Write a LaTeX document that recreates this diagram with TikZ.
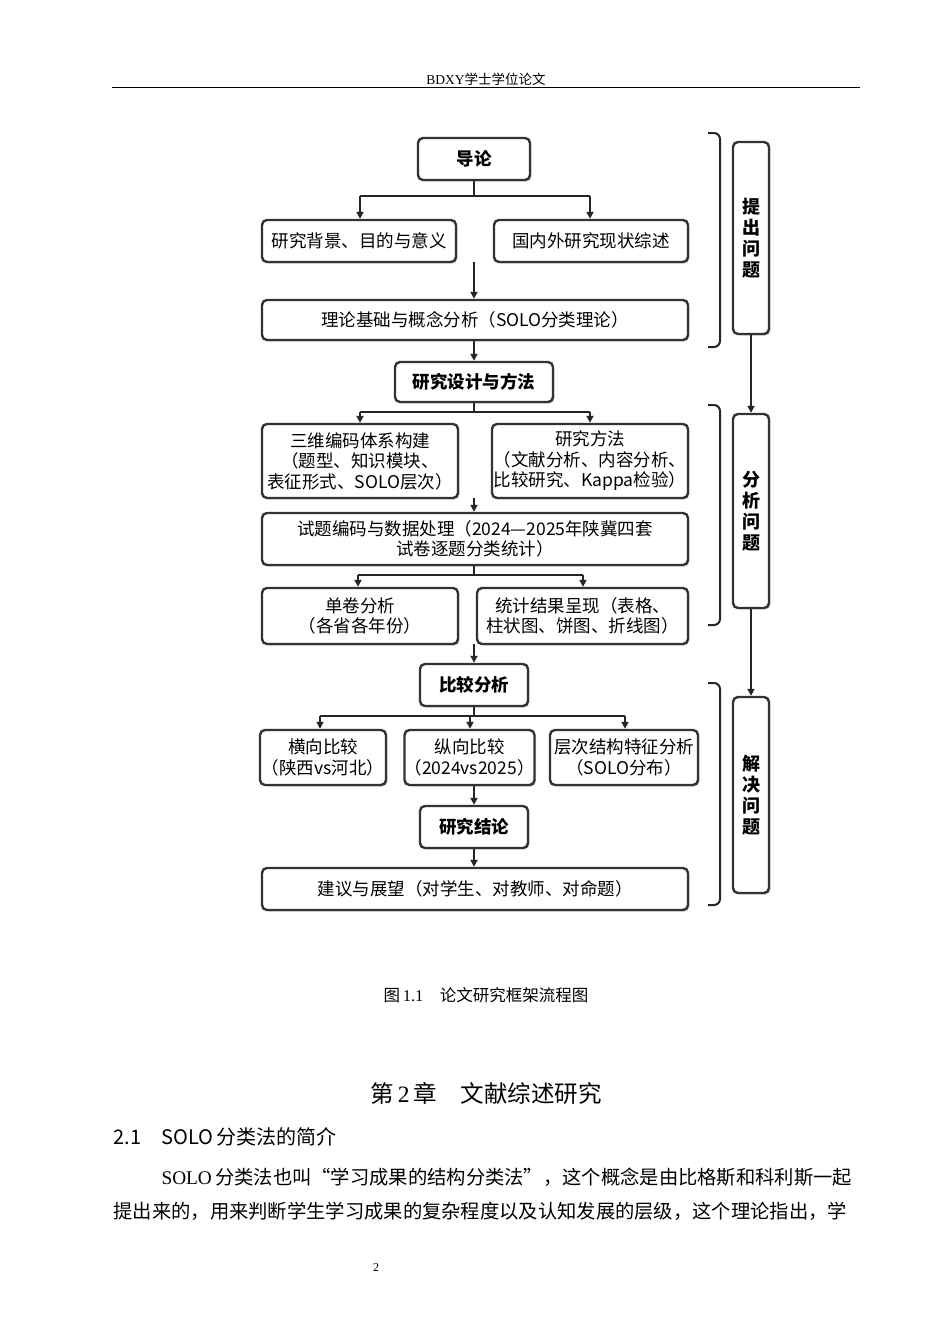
\documentclass[tikz,border=0pt]{standalone}
\usepackage{fontspec}
\setmainfont{Noto Sans CJK SC}
\newfontfamily\serifcjk{Noto Sans CJK SC}
\newfontfamily\latinser{Liberation Serif}
\usetikzlibrary{arrows.meta,shadows}
\begin{document}
\begin{tikzpicture}[x=1pt,y=-1pt,
  bx/.style={draw=black!80,line width=2.4pt,rounded corners=5pt,fill=white,
    drop shadow={shadow xshift=1.5pt,shadow yshift=-1.5pt,opacity=0.35},
    font=\fontsize{17.5}{20.5}\selectfont,align=center,inner sep=0pt},
  tb/.style={bx,font=\fontsize{17.5}{20}\selectfont\bfseries},
  vb/.style={bx,font=\fontsize{18}{21}\selectfont\bfseries},
  ar/.style={-{Triangle[length=7pt,width=7pt]},line width=2pt,black!85},
  ln/.style={line width=2pt,black!85},
  br/.style={line width=2pt,black!85,rounded corners=6pt}]
\useasboundingbox (0,0) rectangle (950,1344);
\fill[white] (0,0) rectangle (950,1344);
% header
\node (hdr) at (486,79) {\fontsize{13.5}{15}\selectfont\latinser BDXY\serifcjk 学士学位论文};
\draw[line width=0.8pt] (112,87) -- (860,87);
% boxes
\newcommand{\bxx}[6]{\node[#1,minimum width=#4-#2,minimum height=#5-#3] (#6) at ({(#2+#4)/2},{(#3+#5)/2})}
\bxx{tb}{418}{138}{530}{180}{dl} {导论};
\bxx{bx}{262}{220}{456}{262}{bj} {研究背景、目的与意义};
\bxx{bx}{494}{220}{688}{262}{gn} {国内外研究现状综述};
\bxx{bx}{262}{300}{688}{340}{ll} {理论基础与概念分析（SOLO分类理论）};
\bxx{tb}{395}{362}{553}{402}{sj} {研究设计与方法};
\bxx{bx}{262}{424}{458}{498}{sw} {三维编码体系构建\\（题型、知识模块、\\表征形式、SOLO层次）};
\bxx{bx}{492}{424}{688}{498}{ff} {研究方法\\（文献分析、内容分析、\\比较研究、Kappa检验）};
\bxx{bx}{262}{513}{688}{565}{st} {试题编码与数据处理（2024—2025年陕冀四套\\试卷逐题分类统计）};
\bxx{bx}{262}{588}{458}{644}{dj} {单卷分析\\（各省各年份）};
\bxx{bx}{477}{588}{688}{644}{tj} {统计结果呈现（表格、\\柱状图、饼图、折线图）};
\bxx{tb}{420}{664}{528}{706}{bj2} {比较分析};
\bxx{bx}{260}{730}{386}{785}{hx} {横向比较\\（陕西vs河北）};
\bxx{bx}{406}{730}{533}{785}{zx} {纵向比较\\（2024vs2025）};
\bxx{bx}{550}{730}{698}{785}{cc} {层次结构特征分析\\（SOLO分布）};
\bxx{tb}{420}{806}{528}{848}{jl} {研究结论};
\bxx{bx}{262}{868}{688}{910}{jy} {建议与展望（对学生、对教师、对命题）};
% connectors
\draw[ln] (dl.south-|474,0) -- (474,196);
\draw[ln] (360,196) -- (590,196);
\draw[ar] (360,196) -- (bj.north-|360,0);
\draw[ar] (590,196) -- (gn.north-|590,0);
\draw[ar] (474,262) -- (ll.north-|474,0);
\draw[ar] (ll.south-|474,0) -- (sj.north-|474,0);
\draw[ln] (sj.south-|474,0) -- (474,412);
\draw[ln] (360,412) -- (590,412);
\draw[ar] (360,412) -- (sw.north-|360,0);
\draw[ar] (590,412) -- (ff.north-|590,0);
\draw[ar] (474,498) -- (st.north-|474,0);
\draw[ln] (st.south-|474,0) -- (474,575);
\draw[ln] (358,575) -- (583,575);
\draw[ar] (358,575) -- (dj.north-|358,0);
\draw[ar] (583,575) -- (tj.north-|583,0);
\draw[ar] (474,644) -- (bj2.north-|474,0);
\draw[ln] (bj2.south-|474,0) -- (474,716);
\draw[ln] (320,716) -- (625,716);
\draw[ar] (320,716) -- (hx.north-|320,0);
\draw[ar] (470,716) -- (zx.north-|470,0);
\draw[ar] (zx.south-|474,0) -- (jl.north-|474,0);
\draw[ar] (625,716) -- (cc.north-|625,0);
\draw[ar] (jl.south-|474,0) -- (jy.north-|474,0);
% brackets
\draw[br] (708,133) -- (720,133) -- (720,347) -- (708,347);
\draw[br] (708,405) -- (720,405) -- (720,625) -- (708,625);
\draw[br] (708,683) -- (720,683) -- (720,905) -- (708,905);
\bxx{vb}{733}{142}{769}{334}{v1} {提\\出\\问\\题};
\bxx{vb}{733}{414}{769}{608}{v2} {分\\析\\问\\题};
\bxx{vb}{733}{697}{769}{893}{v3} {解\\决\\问\\题};
\draw[ar] (v1.south) -- (v2.north);
\draw[ar] (v2.south) -- (v3.north);
% caption and text
\node (cap) at (486,995) {\fontsize{16.5}{19}\selectfont 图\,\latinser 1.1\serifcjk\quad 论文研究框架流程图};
\node (ch) at (486,1093) {\fontsize{23.5}{27}\selectfont 第\,\latinser 2\serifcjk\,章\quad 文献综述研究};
\node[anchor=west] (sec) at (110,1137) {\fontsize{20}{23}\selectfont 2.1\quad SOLO\,分类法的简介};
\node[anchor=west] (p1) at (158,1177) {\fontsize{19.3}{22}\selectfont\latinser SOLO\serifcjk\,分类法也叫“学习成果的结构分类法”，这个概念是由比格斯和科利斯一起};
\node[anchor=west] (p2) at (110,1211) {\fontsize{19.3}{22}\selectfont 提出来的，用来判断学生学习成果的复杂程度以及认知发展的层级，这个理论指出，学};
\node (pg) at (376,1268) {\fontsize{12}{14}\selectfont\latinser 2};
\end{tikzpicture}
\end{document}
